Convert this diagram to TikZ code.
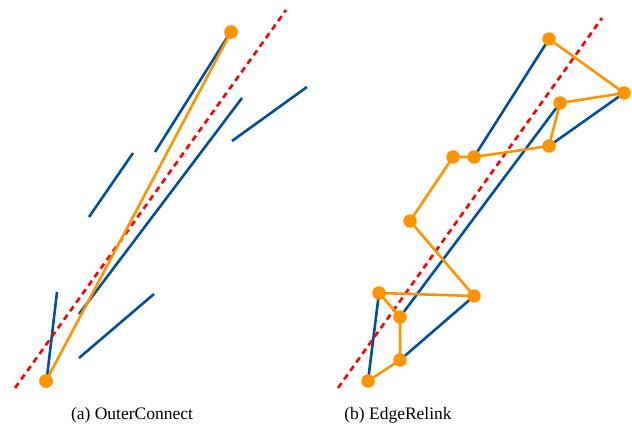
\documentclass[tikz,border=0pt]{standalone}
\usepackage{fontspec}
\setmainfont{Liberation Serif}
\definecolor{segblue}{RGB}{0,80,158}
\definecolor{dotorange}{RGB}{255,148,0}
\tikzset{
  seg/.style={draw=segblue, line width=2.6pt},
  axis/.style={draw=red, line width=2.6pt, dash pattern=on 6pt off 4.5pt},
  link/.style={draw=dotorange, line width=2.6pt},
  pt/.style={circle, fill=dotorange, inner sep=0pt, minimum size=13.5pt},
  captext/.style={font=\fontsize{17.5}{20}\selectfont, inner sep=0pt}
}
\begin{document}
\begin{tikzpicture}[x=1pt,y=-1pt]
\useasboundingbox (0,0) rectangle (632,432);
% ---- (a) ----
\coordinate (s1a) at (155,152); \coordinate (s1b) at (230,33);
\coordinate (s2a) at (89,217);  \coordinate (s2b) at (133,153);
\coordinate (s3a) at (242,98);  \coordinate (s3b) at (79,314);
\coordinate (s4a) at (232,141); \coordinate (s4b) at (307,87);
\coordinate (s5a) at (57,292);  \coordinate (s5b) at (47,377);
\coordinate (s6a) at (79,358);  \coordinate (s6b) at (154,294);
\coordinate (ra1) at (15,388);  \coordinate (ra2) at (286,10);
\draw[seg] (s1a) -- (s1b);
\draw[seg] (s2a) -- (s2b);
\draw[seg] (s3a) -- (s3b);
\draw[seg] (s4a) -- (s4b);
\draw[seg] (s5a) -- (s5b);
\draw[seg] (s6a) -- (s6b);
\draw[axis] (ra1) -- (ra2);
\node[pt] (ta) at (231,32) {};
\node[pt] (ba) at (46,381) {};
\draw[link] (ta.center) -- (ba.center);
\node[pt] at (ta) {};
\node[pt] at (ba) {};
% ---- (b) ----
\coordinate (rb1) at (338,388); \coordinate (rb2) at (602,18);
\coordinate (A) at (549,39);
\coordinate (B) at (624,93);
\coordinate (C) at (560,103);
\coordinate (D) at (549,146);
\coordinate (E) at (474,157);
\coordinate (F) at (453,157);
\coordinate (G) at (410,221);
\coordinate (H) at (474,296);
\coordinate (I) at (379,293);
\coordinate (J) at (400,317);
\coordinate (K) at (400,360);
\coordinate (L) at (368,381);
\draw[seg] (A) -- (E);
\draw[seg] (C) -- (J);
\draw[seg] (B) -- (D);
\draw[seg] (H) -- (K);
\draw[seg] (I) -- (L);
\draw[axis] (rb1) -- (rb2);
\draw[link] (A) -- (B) -- (C) -- (D) -- (E) -- (F) -- (G) -- (H) -- (I) -- (J) -- (K) -- (L);
\foreach \p in {A,B,C,D,E,F,G,H,I,J,K,L} \node[pt] (d\p) at (\p) {};
% ---- captions ----
\node[captext] (capa) at (132,415) {(a) OuterConnect};
\node[captext] (capb) at (398,415) {(b) EdgeRelink};
\end{tikzpicture}
\end{document}
